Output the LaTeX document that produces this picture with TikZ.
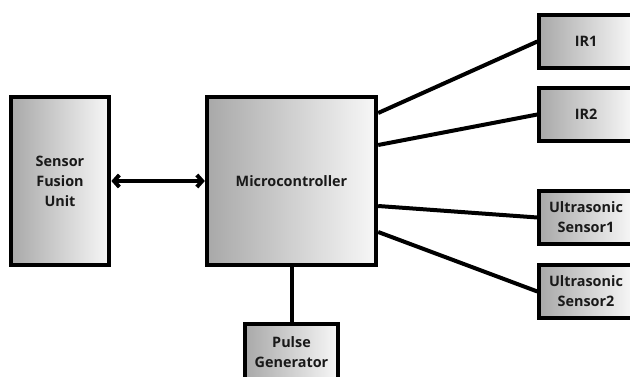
\documentclass[tikz,border=0pt]{standalone}
\usepackage{fontspec}
\setmainfont{Open Sans}
\usepackage{tikz}
\usetikzlibrary{arrows.meta,calc,positioning}

\tikzset{
  bloc/.style={draw=black, line width=3pt, left color=black!34, right color=black!3,
    font=\bfseries\fontsize{10.8}{15}\selectfont, text=black!90, align=center, inner sep=0pt},
  link/.style={line width=3pt, black}
}

\begin{document}
\begin{tikzpicture}[x=0.75pt, y=-0.75pt]
%
\useasboundingbox (0,0) rectangle (630,377);
% Bloc Sensor Fusion Unit
\node[bloc, minimum width=74pt, minimum height=126pt] (sfu) at (60,181) {Sensor\\Fusion\\Unit};
% Bloc Microcontroller
\node[bloc, minimum width=127pt, minimum height=126pt] (mcu) at (291.5,181) {Microcontroller};
% Capteurs
\node[bloc, minimum width=70pt, minimum height=40pt] (irA) at (586,41.5) {IR1};
\node[bloc, minimum width=70pt, minimum height=40pt] (irB) at (586,114.5) {IR2};
\node[bloc, minimum width=70pt, minimum height=40pt] (usA) at (586,217.5) {Ultrasonic\\Sensor1};
\node[bloc, minimum width=70pt, minimum height=40pt] (usB) at (586,291.5) {Ultrasonic\\Sensor2};
% Bloc Pulse Generator
\node[bloc, minimum width=70pt, minimum height=42pt] (pulse) at (291.5,352) {Pulse\\Generator};
% Fleche double
\draw[link, {Straight Barb[length=4pt,width=9pt]}-{Straight Barb[length=4pt,width=9pt]}] (sfu.east) -- (mcu.west);
%Segment 1
\draw[link] ([yshift=51pt]mcu.east) -- (irA.west);
%Segment 2
\draw[link] ([yshift=27pt]mcu.east) -- (irB.west);
%Segment 3
\draw[link] ([yshift=-18.75pt]mcu.east) -- (usA.west);
%Segment 4
\draw[link] ([yshift=-38.25pt]mcu.east) -- (usB.west);
%Segment 5
\draw[link] (mcu.south) -- (pulse.north);
\end{tikzpicture}
\end{document}
